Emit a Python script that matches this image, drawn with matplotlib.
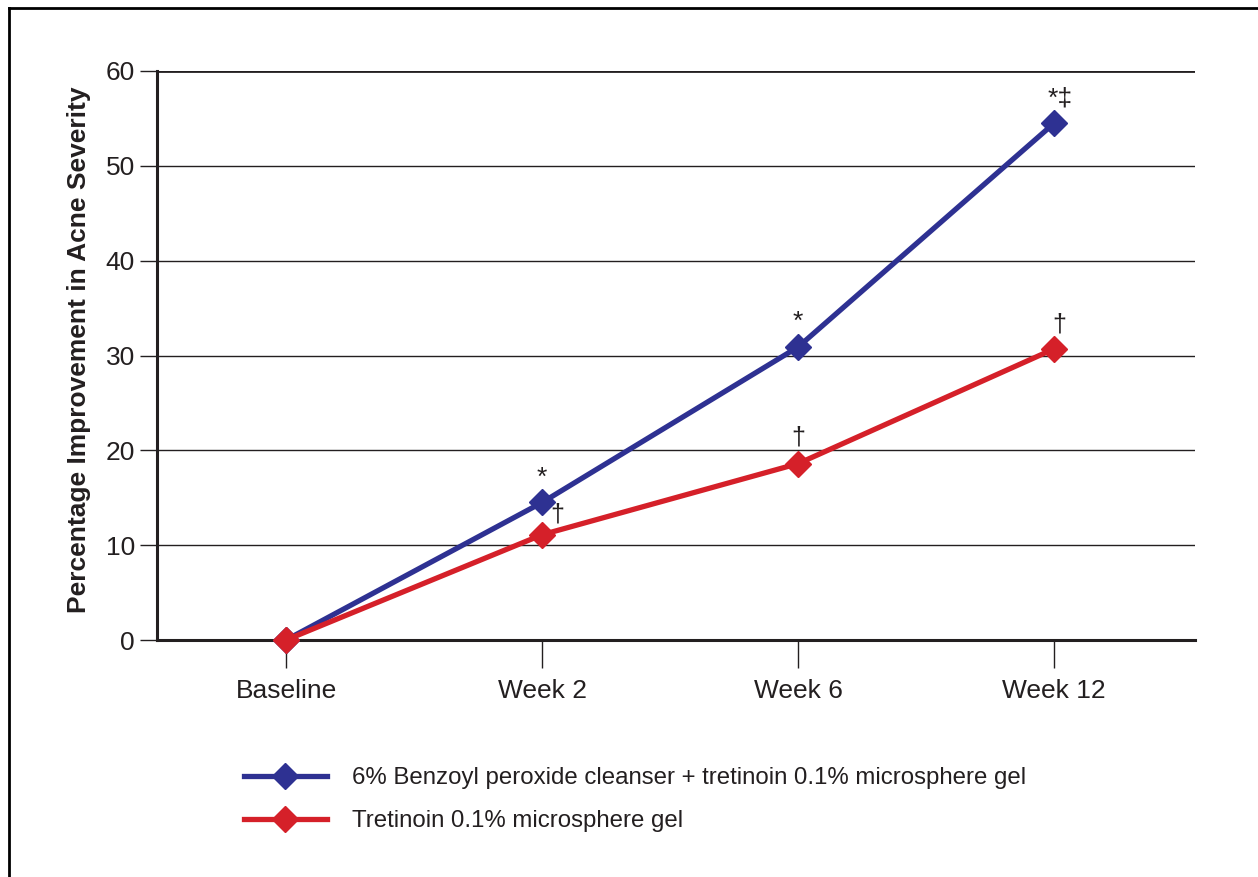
import matplotlib
matplotlib.use("Agg")
import matplotlib.pyplot as plt
from matplotlib.lines import Line2D

plt.rcParams['font.family'] = ['Liberation Sans', 'DejaVu Sans']

categories = ["Baseline", "Week 2", "Week 6", "Week 12"]
combo_values = [0, 14.5, 30.9, 54.5]
tretinoin_values = [0, 11.1, 18.6, 30.7]
combo_marks = ["", "*", "*", "*\u2021"]
tretinoin_marks = ["", "\u2020", "\u2020", "\u2020"]
series_labels = ["6% Benzoyl peroxide cleanser + tretinoin 0.1% microsphere gel",
                 "Tretinoin 0.1% microsphere gel"]
yticks = [0, 10, 20, 30, 40, 50, 60]

blue = "#2E3192"
red = "#D52029"
dark = "#231F20"

W, H = 1258, 877
fig = plt.figure(figsize=(W / 100, H / 100), dpi=100)
ax = fig.add_axes([157 / W, 1 - 640 / H, (1195 - 157) / W, (640 - 71) / H])

x = list(range(len(categories)))
ax.set_xlim(-0.504, 3.55)
ax.set_ylim(0, 60)

for yv in yticks[1:]:
    ax.axhline(yv, color=dark, lw=2.0 if yv == 60 else 1.0, zorder=1)

l1, = ax.plot(x, combo_values, color=blue, lw=3.8, marker="D", markersize=13,
              zorder=3, label=series_labels[0], clip_on=False)
l2, = ax.plot(x, tretinoin_values, color=red, lw=3.8, marker="D", markersize=13,
              zorder=4, label=series_labels[1], clip_on=False)

# annotations
for i, (v, m) in enumerate(zip(combo_values, combo_marks)):
    if m:
        ax.annotate(m, (i, v), xytext=(6 if len(m) > 1 else 0, 13), textcoords="offset pixels",
                    ha="center", va="bottom", fontsize=19, color=dark)
tre_offsets = [(0, 0), (15, 8), (0, 14), (5, 12)]
for i, (v, m) in enumerate(zip(tretinoin_values, tretinoin_marks)):
    if m:
        ax.annotate(m, (i, v), xytext=tre_offsets[i], textcoords="offset pixels",
                    ha="center", va="bottom", fontsize=18, color=dark)

ax.set_xticks(x)
ax.set_xticklabels(categories, fontsize=19, color=dark)
ax.set_yticks(yticks)
ax.set_yticklabels([str(t) for t in yticks], fontsize=19, color=dark)
ax.tick_params(axis="x", length=20, width=1.0, color=dark, pad=8, direction="out")
ax.tick_params(axis="y", length=12, width=1.0, color=dark, pad=4, direction="out")

for s in ["top", "right"]:
    ax.spines[s].set_visible(False)
for s in ["left", "bottom"]:
    ax.spines[s].set_linewidth(2.2)
    ax.spines[s].set_color(dark)
    ax.spines[s].set_zorder(2)

fig.text(79 / W, 1 - 350 / H, "Percentage Improvement in Acne Severity", rotation=90,
         ha="center", va="center", fontsize=19, fontweight="bold", color=dark)

fig.legend(handles=[l1, l2], labels=series_labels, loc="upper left",
           bbox_to_anchor=(244 / W, 1 - 767 / H), frameon=False, fontsize=17.3,
           handlelength=3.45, handletextpad=1.05, labelspacing=0.88,
           labelcolor=dark, borderaxespad=0, borderpad=0)

# outer frame (left and top)
fig.add_artist(Line2D([8.5 / W, 8.5 / W], [0, 1 - 7.5 / H], color="black", lw=2,
                      transform=fig.transFigure))
fig.add_artist(Line2D([8.5 / W, 1], [1 - 7.5 / H, 1 - 7.5 / H], color="black", lw=2,
                      transform=fig.transFigure))

fig.savefig("out.png", dpi=100)
